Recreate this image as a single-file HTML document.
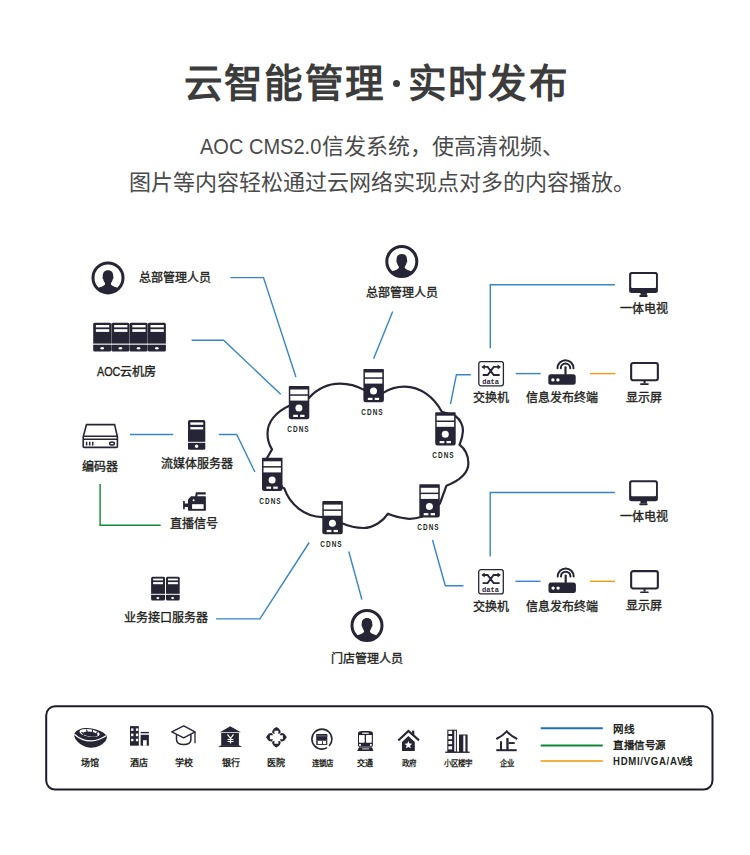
<!DOCTYPE html>
<html lang="zh-CN"><head><meta charset="utf-8">
<style>
html,body{margin:0;padding:0;background:#fff;}
body{width:750px;height:855px;position:relative;overflow:hidden;font-family:"Liberation Sans",sans-serif;}
.t{position:absolute;white-space:nowrap;}
#title{left:1.5px;width:750px;text-align:center;top:54px;font-size:38.5px;letter-spacing:1.2px;font-weight:bold;color:#3c3c3c;line-height:60px;}
#title .dot{display:inline-block;width:7px;height:7px;border-radius:50%;background:#3c3c3c;vertical-align:middle;margin:0 8.5px 0 7.5px;position:relative;top:-3.5px;}
#sub1{left:7px;width:750px;text-align:center;top:132px;font-size:22px;color:#4a4a4a;line-height:30px;}
#sub2{left:6.5px;width:750px;text-align:center;top:168px;font-size:22px;color:#4a4a4a;line-height:30px;}
.lb{position:absolute;width:160px;margin-left:-80px;text-align:center;font-size:12px;line-height:14px;font-weight:normal;-webkit-text-stroke:0.35px #231f20;color:#231f20;white-space:nowrap;margin-top:1px;}
.cd{position:absolute;width:40px;margin-left:-20px;text-align:center;font-size:8.5px;line-height:10px;font-weight:bold;color:#231f20;letter-spacing:1.3px;text-indent:1.3px;transform:scaleX(0.76);}
.lg{position:absolute;width:60px;margin-left:-30px;text-align:center;font-size:9px;line-height:10px;font-weight:bold;color:#231f20;white-space:nowrap;margin-top:1px;}
.lk{position:absolute;left:613px;letter-spacing:0.5px;font-size:10.5px;line-height:12px;font-weight:bold;color:#231f20;white-space:nowrap;margin-top:1px;}
svg{position:absolute;left:0;top:0;}
</style></head><body>
<div class="t" id="title">云智能管理<span class="dot"></span>实时发布</div>
<div class="t" id="sub1"><span style="display:inline-block;transform:scaleX(0.91);transform-origin:0 0;margin-right:-12px">AOC CMS2.0</span>信发系统，使高清视频、</div>
<div class="t" id="sub2">图片等内容轻松通过云网络实现点对多的内容播放。</div>
<svg width="750" height="855" viewBox="0 0 750 855">


<!-- network lines -->
<g fill="none" stroke="#3585c8" stroke-width="1.4">
<polyline points="230.4,277.6 263.5,277.6 295.9,377"/>
<polyline points="191.6,340.3 223.7,340.3 280.7,394.3"/>
<polyline points="392.7,311.4 373.6,358.8"/>
<polyline points="450.5,404 456.4,374.7 470.9,374.7"/>
<polyline points="490.3,348.2 490.3,284.7 614.9,284.7"/>
<polyline points="515.7,373.6 540.7,373.6"/>
<polyline points="432.5,540 445.3,585.7 463.5,585.7"/>
<polyline points="490.2,556.5 490.2,492.5 614.9,492.5"/>
<polyline points="515.5,581.3 540.5,581.3"/>
<polyline points="130,434.5 173.2,434.5"/>
<polyline points="218.8,434.5 236.7,434.5 254.9,472"/>
<polyline points="216.1,618.9 259.9,618.9 309.2,542.5"/>
<polyline points="348.8,551.5 361.9,599.5"/>
</g>
<g fill="none" stroke="#f39c12" stroke-width="1.4">
<polyline points="590,373.6 615.5,373.6"/>
<polyline points="589.9,581.3 615,581.3"/>
</g>
<polyline points="100.1,484.1 100.1,525.2 160.7,525.2" fill="none" stroke="#0f8a36" stroke-width="1.4"/>

<!-- cloud -->
<path fill="none" stroke="#262536" stroke-width="2.2" stroke-linejoin="round" d="M308.9,397.9 C318,388 329,383.6 340.1,383.6 C350,383.6 357,386 364,389.9 L383.6,392.6 C390,388.5 397,386.6 404.6,386.6 C420,386.6 434,397 441.8,411.8 L455.4,416 C461,420 463.5,427 462.8,432 C462.5,438 460.5,442 459.5,444.7 C465,449 468.4,456 468.4,463.3 C468.4,475 456,482 446.4,485.8 L439.9,503.5 L422,516.7 C416,518.5 411,519 407.3,518.7 C399,517.5 392,515.5 388,513.7 C384,520 374,528 363.3,528 C355,528 348,526 342,523.3 L322.4,517.1 C305,517 290,505 284.2,488.2 L282.4,487.4 L267.2,457.8 L272,449.4 C268,443 267.5,437 267.5,433.4 C267.5,422 276,412 288.8,406.1 Z"/>

<!-- servers on cloud -->
<g transform="translate(288.8 386)">
<path fill="#262536" d="M0,0.8 Q0,0 0.8,0 H19.7 Q20.5,0 20.5,0.8 V30.7 Q20.5,33.2 18,33.2 H2.5 Q0,33.2 0,30.7 Z"/>
<rect x="1.5" y="3.5" width="17.4" height="4.8" fill="#fff"/>
<rect x="1.5" y="9.8" width="17.4" height="4.8" fill="#fff"/>
<circle cx="10.1" cy="22.1" r="3.5" fill="#fff"/>
<rect x="4.4" y="28.8" width="4.7" height="2.2" fill="#fff"/>
<rect x="11.3" y="28.8" width="4.4" height="2.2" fill="#fff"/>
</g>
<g transform="translate(363.4 369)">
<path fill="#262536" d="M0,0.8 Q0,0 0.8,0 H19.7 Q20.5,0 20.5,0.8 V30.7 Q20.5,33.2 18,33.2 H2.5 Q0,33.2 0,30.7 Z"/>
<rect x="1.5" y="3.5" width="17.4" height="4.8" fill="#fff"/>
<rect x="1.5" y="9.8" width="17.4" height="4.8" fill="#fff"/>
<circle cx="10.1" cy="22.1" r="3.5" fill="#fff"/>
<rect x="4.4" y="28.8" width="4.7" height="2.2" fill="#fff"/>
<rect x="11.3" y="28.8" width="4.4" height="2.2" fill="#fff"/>
</g>
<g transform="translate(435.2 412.2)">
<path fill="#262536" d="M0,0.8 Q0,0 0.8,0 H19.7 Q20.5,0 20.5,0.8 V30.7 Q20.5,33.2 18,33.2 H2.5 Q0,33.2 0,30.7 Z"/>
<rect x="1.5" y="3.5" width="17.4" height="4.8" fill="#fff"/>
<rect x="1.5" y="9.8" width="17.4" height="4.8" fill="#fff"/>
<circle cx="10.1" cy="22.1" r="3.5" fill="#fff"/>
<rect x="4.4" y="28.8" width="4.7" height="2.2" fill="#fff"/>
<rect x="11.3" y="28.8" width="4.4" height="2.2" fill="#fff"/>
</g>
<g transform="translate(419.3 484.3)">
<path fill="#262536" d="M0,0.8 Q0,0 0.8,0 H19.7 Q20.5,0 20.5,0.8 V30.7 Q20.5,33.2 18,33.2 H2.5 Q0,33.2 0,30.7 Z"/>
<rect x="1.5" y="3.5" width="17.4" height="4.8" fill="#fff"/>
<rect x="1.5" y="9.8" width="17.4" height="4.8" fill="#fff"/>
<circle cx="10.1" cy="22.1" r="3.5" fill="#fff"/>
<rect x="4.4" y="28.8" width="4.7" height="2.2" fill="#fff"/>
<rect x="11.3" y="28.8" width="4.4" height="2.2" fill="#fff"/>
</g>
<g transform="translate(322.3 501.1)">
<path fill="#262536" d="M0,0.8 Q0,0 0.8,0 H19.7 Q20.5,0 20.5,0.8 V30.7 Q20.5,33.2 18,33.2 H2.5 Q0,33.2 0,30.7 Z"/>
<rect x="1.5" y="3.5" width="17.4" height="4.8" fill="#fff"/>
<rect x="1.5" y="9.8" width="17.4" height="4.8" fill="#fff"/>
<circle cx="10.1" cy="22.1" r="3.5" fill="#fff"/>
<rect x="4.4" y="28.8" width="4.7" height="2.2" fill="#fff"/>
<rect x="11.3" y="28.8" width="4.4" height="2.2" fill="#fff"/>
</g>
<g transform="translate(262 457.8)">
<path fill="#262536" d="M0,0.8 Q0,0 0.8,0 H19.7 Q20.5,0 20.5,0.8 V30.7 Q20.5,33.2 18,33.2 H2.5 Q0,33.2 0,30.7 Z"/>
<rect x="1.5" y="3.5" width="17.4" height="4.8" fill="#fff"/>
<rect x="1.5" y="9.8" width="17.4" height="4.8" fill="#fff"/>
<circle cx="10.1" cy="22.1" r="3.5" fill="#fff"/>
<rect x="4.4" y="28.8" width="4.7" height="2.2" fill="#fff"/>
<rect x="11.3" y="28.8" width="4.4" height="2.2" fill="#fff"/>
</g>

<!-- people -->
<g transform="translate(108 277.9)">
<circle cx="0" cy="0" r="15" fill="none" stroke="#262536" stroke-width="3"/>
<path fill="#262536" d="M-3,5 C-3.5,4.5 -4.5,3 -4.8,1 L-5.5,0.5 L-5.3,-1.5 C-5.3,-5.5 -3.5,-7.6 0,-7.6 C3.5,-7.6 5.3,-5.5 5.3,-1.5 L5.5,0.5 L4.8,1 C4.5,3 3.5,4.5 3,5 L3,6.5 C4,8 7,8.8 10.8,10.4 A15,15 0 0 1 -10.8,10.4 C-7,8.8 -4,8 -3,6.5 Z"/>
</g>
<g transform="translate(401.8 261.5)">
<circle cx="0" cy="0" r="15" fill="none" stroke="#262536" stroke-width="3"/>
<path fill="#262536" d="M-3,5 C-3.5,4.5 -4.5,3 -4.8,1 L-5.5,0.5 L-5.3,-1.5 C-5.3,-5.5 -3.5,-7.6 0,-7.6 C3.5,-7.6 5.3,-5.5 5.3,-1.5 L5.5,0.5 L4.8,1 C4.5,3 3.5,4.5 3,5 L3,6.5 C4,8 7,8.8 10.8,10.4 A15,15 0 0 1 -10.8,10.4 C-7,8.8 -4,8 -3,6.5 Z"/>
</g>
<g transform="translate(367 625.5)">
<circle cx="0" cy="0" r="15" fill="none" stroke="#262536" stroke-width="3"/>
<path fill="#262536" d="M-3,5 C-3.5,4.5 -4.5,3 -4.8,1 L-5.5,0.5 L-5.3,-1.5 C-5.3,-5.5 -3.5,-7.6 0,-7.6 C3.5,-7.6 5.3,-5.5 5.3,-1.5 L5.5,0.5 L4.8,1 C4.5,3 3.5,4.5 3,5 L3,6.5 C4,8 7,8.8 10.8,10.4 A15,15 0 0 1 -10.8,10.4 C-7,8.8 -4,8 -3,6.5 Z"/>
</g>

<!-- server bank -->
<g fill="#262536">
<rect x="93.2" y="322.8" width="18.0" height="28.8" rx="1.5"/>
<rect x="111.4" y="322.8" width="18.0" height="28.8" rx="1.5"/>
<rect x="129.6" y="322.8" width="18.0" height="28.8" rx="1.5"/>
<rect x="147.8" y="322.8" width="18.1" height="28.8" rx="1.5"/>
</g>
<g fill="#fff">
<rect x="95.9" y="325" width="13.3" height="2.4"/><rect x="95.9" y="329.2" width="13.3" height="2.7"/>
<rect x="114.1" y="325" width="13.3" height="2.4"/><rect x="114.1" y="329.2" width="13.3" height="2.7"/>
<rect x="132.3" y="325" width="13.3" height="2.4"/><rect x="132.3" y="329.2" width="13.3" height="2.7"/>
<rect x="150.5" y="325" width="13.3" height="2.4"/><rect x="150.5" y="329.2" width="13.3" height="2.7"/>
<rect x="93" y="343.6" width="73" height="1.1"/>
<ellipse cx="102.2" cy="348.3" rx="1.8" ry="1.2"/><ellipse cx="120.4" cy="348.3" rx="1.8" ry="1.2"/>
<ellipse cx="138.6" cy="348.3" rx="1.8" ry="1.2"/><ellipse cx="156.8" cy="348.3" rx="1.8" ry="1.2"/>
</g>

<!-- encoder -->
<g fill="none" stroke="#262536" stroke-width="1.6">
<path d="M86.5,424.6 H114.6 L117.4,436.8 V446.4 Q117.4,447.4 116.4,447.4 H84.2 Q83.2,447.4 83.2,446.4 V436.8 Z"/>
<path d="M83.5,436.3 H117.2 M83.2,439.3 H117.4"/>
<path d="M86.6,441.8 V445.4 M89.7,441.8 V445.4 M92.7,441.8 V445.4" stroke-width="1.5"/>
<ellipse cx="112" cy="443.5" rx="2.4" ry="1.6" stroke-width="1.5"/>
</g>

<!-- stream tower -->
<rect x="188" y="420.1" width="17.3" height="29.7" rx="1.6" fill="#262536"/>
<g fill="#fff">
<rect x="190.3" y="422.4" width="12.9" height="2.4"/><rect x="190.3" y="427.1" width="12.9" height="2.3"/>
<rect x="187.5" y="441.8" width="18.5" height="1"/>
<circle cx="196.6" cy="446.3" r="1.7"/>
</g>

<!-- camera -->
<g fill="#262536">
<path d="M188,499.5 L191,496.3 H205 Q205.9,496.3 205.9,497.2 V509.9 Q205.9,510.8 205,510.8 H189 Q188,510.8 188,509.9 Z"/>
<path d="M183.1,501 H184.8 V503.4 H188.5 V507 H184.8 V509.3 H183.1 Z"/>
<path d="M195,496.8 L195.9,492.3 H205.7 V494.4 H197.6 L197.1,496.8 Z"/>
</g>
<g fill="#fff">
<rect x="192.1" y="504.2" width="11.5" height="4.7"/>
<circle cx="193.6" cy="500.2" r="1"/>
</g>

<!-- double server -->
<g fill="#262536">
<rect x="151.1" y="576.8" width="13.9" height="23.8" rx="1.5"/>
<rect x="166" y="576.8" width="13.7" height="23.8" rx="1.5"/>
</g>
<g fill="#fff">
<rect x="153.1" y="578.6" width="9.9" height="1.8"/><rect x="153.1" y="582.1" width="9.9" height="2.1"/>
<rect x="168" y="578.6" width="9.9" height="1.8"/><rect x="168" y="582.1" width="9.9" height="2.1"/>
<rect x="150" y="593.8" width="31" height="1"/>
<ellipse cx="157.9" cy="598.1" rx="1.5" ry="1.1"/><ellipse cx="172.6" cy="598.1" rx="1.5" ry="1.1"/>
</g>

<!-- right groups -->
<g transform="translate(478.2 361)">
<rect x="0.6" y="0.6" width="24.6" height="24.2" rx="2.2" fill="#fff" stroke="#262536" stroke-width="1.3"/>
<path d="M4.5,5.9 H9.5 L15.5,14 H21.5 M4.5,14 H9.5 L15.5,5.9 H20.5" fill="none" stroke="#262536" stroke-width="1.9"/>
<path d="M3.2,5.9 L6.6,3.4 V8.4 Z M22.8,5.9 L19.4,3.4 V8.4 Z" fill="#262536"/>
<text x="12.4" y="22.6" text-anchor="middle" font-family="Liberation Mono" font-weight="bold" font-size="7" fill="#262536" letter-spacing="0">data</text>
</g>
<g transform="translate(548.3 358.4)">
<rect x="0" y="15.8" width="27.4" height="10.5" rx="2.5" fill="#262536"/>
<rect x="16.1" y="7.8" width="2.2" height="9" rx="1.1" fill="#262536"/>
<circle cx="4.6" cy="21.5" r="1.7" fill="#fff"/>
<circle cx="9.6" cy="21.5" r="1.7" fill="#fff"/>
<path d="M9.2,9.8 A8,8 0 0 1 25.2,9.8 M12.5,9.8 A4.7,4.7 0 0 1 21.9,9.8" fill="none" stroke="#262536" stroke-width="2" stroke-linecap="round"/>
</g>
<g transform="translate(629.1 271.9)">
<rect x="0" y="0" width="28.8" height="21" rx="2.5" fill="#262536"/>
<rect x="2.1" y="2.1" width="24.8" height="13.9" rx="1" fill="#fff"/>
<rect x="11.4" y="20" width="6.4" height="3" fill="#262536"/>
<rect x="10.1" y="23" width="8.5" height="2" rx="1" fill="#262536"/>
</g>
<g transform="translate(630.1 361.9)">
<rect x="1.05" y="1.05" width="26.7" height="17.3" rx="2" fill="none" stroke="#262536" stroke-width="2.1"/>
<rect x="13.4" y="19" width="2.1" height="2.4" fill="#262536"/>
<rect x="9.9" y="21.4" width="8.8" height="1.6" rx="0.8" fill="#262536"/>
</g>
<g transform="translate(478.1 569.1)">
<rect x="0.6" y="0.6" width="24.6" height="24.2" rx="2.2" fill="#fff" stroke="#262536" stroke-width="1.3"/>
<path d="M4.5,5.9 H9.5 L15.5,14 H21.5 M4.5,14 H9.5 L15.5,5.9 H20.5" fill="none" stroke="#262536" stroke-width="1.9"/>
<path d="M3.2,5.9 L6.6,3.4 V8.4 Z M22.8,5.9 L19.4,3.4 V8.4 Z" fill="#262536"/>
<text x="12.4" y="22.6" text-anchor="middle" font-family="Liberation Mono" font-weight="bold" font-size="7" fill="#262536" letter-spacing="0">data</text>
</g>
<g transform="translate(548.5 566.6)">
<rect x="0" y="15.8" width="27.4" height="10.5" rx="2.5" fill="#262536"/>
<rect x="16.1" y="7.8" width="2.2" height="9" rx="1.1" fill="#262536"/>
<circle cx="4.6" cy="21.5" r="1.7" fill="#fff"/>
<circle cx="9.6" cy="21.5" r="1.7" fill="#fff"/>
<path d="M9.2,9.8 A8,8 0 0 1 25.2,9.8 M12.5,9.8 A4.7,4.7 0 0 1 21.9,9.8" fill="none" stroke="#262536" stroke-width="2" stroke-linecap="round"/>
</g>
<g transform="translate(629.1 480.2)">
<rect x="0" y="0" width="28.8" height="21" rx="2.5" fill="#262536"/>
<rect x="2.1" y="2.1" width="24.8" height="13.9" rx="1" fill="#fff"/>
<rect x="11.4" y="20" width="6.4" height="3" fill="#262536"/>
<rect x="10.1" y="23" width="8.5" height="2" rx="1" fill="#262536"/>
</g>
<g transform="translate(630.1 570.1)">
<rect x="1.05" y="1.05" width="26.7" height="17.3" rx="2" fill="none" stroke="#262536" stroke-width="2.1"/>
<rect x="13.4" y="19" width="2.1" height="2.4" fill="#262536"/>
<rect x="9.9" y="21.4" width="8.8" height="1.6" rx="0.8" fill="#262536"/>
</g>

<!-- legend box -->
<rect x="46.2" y="706.2" width="666.3" height="83.4" rx="9" fill="none" stroke="#1c1b2c" stroke-width="2"/>
<line x1="540.7" y1="728.2" x2="602.8" y2="728.2" stroke="#1f6fb9" stroke-width="2"/>
<line x1="540.7" y1="745.4" x2="602.8" y2="745.4" stroke="#0c8a3a" stroke-width="2"/>
<line x1="540.7" y1="760.9" x2="602.8" y2="760.9" stroke="#f5b043" stroke-width="2"/>

<!-- legend icons -->
<g fill="#262536">
<!-- stadium -->
<path d="M74.3,734 C76,729.5 82,727.8 87,727.9 C95,728.1 104,731.5 106.5,735.5 C107.5,738 106.5,742 100,745.5 C96,747.5 92,748 89,747.5 C82,746.5 75,741 74.3,736 Z"/>
<path d="M74.3,734.2 C78,737.5 85,741 91.3,740.9 C97,740.8 102,738.5 106,735.8" fill="none" stroke="#fff" stroke-width="1.2"/>
<ellipse cx="89.6" cy="733" rx="10.3" ry="3.8" transform="rotate(9 89.6 733)" fill="#fff"/>
<ellipse cx="90.4" cy="734.2" rx="7.4" ry="2.4" transform="rotate(9 90.4 734.2)"/>
<path d="M81.5,732 L84.3,735 M86.5,729.6 L87.5,733 M92.5,730 L92.3,733.4 M97.5,731.5 L96,734.8" stroke="#262536" stroke-width="1.1" fill="none"/>
<!-- hotel -->
<rect x="130" y="726.1" width="8.8" height="19.6"/>
<rect x="140.6" y="731.9" width="8.3" height="1.4"/>
<rect x="140.6" y="734.8" width="8.3" height="10.9"/>
<g fill="#fff"><rect x="131.1" y="728.4" width="2.3" height="2.5"/><rect x="135.9" y="728.4" width="2.3" height="2.5"/>
<rect x="131.1" y="733.6" width="2.3" height="2.6"/><rect x="135.9" y="733.6" width="2.3" height="2.6"/>
<rect x="131.1" y="738.8" width="2.3" height="2.4"/><rect x="135.9" y="738.8" width="2.3" height="2.4"/>
<rect x="143" y="740.2" width="3.7" height="5.6"/></g>
<!-- school -->
<path d="M171.8,731.9 L183.7,725.9 L195,731.9 L183.7,737.8 Z" fill="none" stroke="#262536" stroke-width="1.5" stroke-linejoin="round"/>
<path d="M176.5,734.5 V739.5 Q176.5,744.5 183.7,744.5 Q190.9,744.5 190.9,739.5 V734.5" fill="none" stroke="#262536" stroke-width="1.5"/>
<path d="M195,731.9 V743.3" fill="none" stroke="#262536" stroke-width="1.3"/>
<!-- bank -->
<path d="M219.9,732.2 L230.2,726.2 L240.8,732.2 Z"/>
<rect x="221.2" y="733" width="17.7" height="12.8"/>
<path d="M220.5,745.4 H239.6 L242.1,747 H218.2 Z"/>
<path d="M227.5,734.3 L230.5,738.5 L233.5,734.3 M230.5,738.5 V743.6 M227.5,739.5 H233.5 M227.5,741.5 H233.5" fill="none" stroke="#fff" stroke-width="1.2"/>
<!-- hospital -->
<path d="M276.4,727 Q281,729.5 280.6,732.5 Q280,734 276.4,734 Q272.8,734 272.2,732.5 Q271.8,729.5 276.4,727 Z"/>
<path d="M276.4,747.6 Q281,745.1 280.6,742.1 Q280,740.6 276.4,740.6 Q272.8,740.6 272.2,742.1 Q271.8,745.1 276.4,747.6 Z"/>
<path d="M266,737.3 Q268.5,732.7 271.5,733.1 Q273,733.7 273,737.3 Q273,740.9 271.5,741.5 Q268.5,741.9 266,737.3 Z"/>
<path d="M286.8,737.3 Q284.3,732.7 281.3,733.1 Q279.8,733.7 279.8,737.3 Q279.8,740.9 281.3,741.5 Q284.3,741.9 286.8,737.3 Z"/>
<path d="M274.4,730.8 H278.4 V735.3 H282.9 V739.3 H278.4 V743.8 H274.4 V739.3 H269.9 V735.3 H274.4 Z" fill="#fff"/>
<!-- chain store -->
<circle cx="321.9" cy="739.1" r="10" fill="none" stroke="#262536" stroke-width="1.6" stroke-dasharray="7.6 2.6 100"/>
<path d="M316.2,734 H327.3 V740.6 H316.2 Z"/>
<rect x="316.2" y="740.6" width="11.1" height="4.3"/>
<g fill="#fff"><rect x="317.7" y="741" width="4.3" height="3"/><rect x="322.9" y="741" width="3.2" height="3"/></g>
<rect x="316.2" y="735" width="11.1" height="1.6" fill="#55556a"/>
<!-- train -->
<path d="M358,733 Q358,731.8 359.5,731.6 L361.7,731 H369 L371.4,731.6 Q372.9,731.8 372.9,733 V745.5 Q372.9,746.7 371.7,746.7 H359.2 Q358,746.7 358,745.5 Z"/>
<g fill="#fff"><rect x="362.2" y="732.6" width="6.6" height="1.2"/>
<rect x="359" y="734.9" width="5.7" height="7.8" rx="0.6"/><rect x="366" y="734.9" width="5.8" height="7.8" rx="0.6"/>
<rect x="359.1" y="744" width="1.8" height="1.8"/><rect x="370" y="744" width="1.7" height="1.8"/></g>
<path d="M359,747.2 H372 L373.5,750.9 H357.2 Z"/>
<rect x="362.2" y="748.5" width="6.8" height="0.8" fill="#fff"/>
<!-- government -->
<path d="M398.3,740.4 L408.4,730.9 L419.1,740.4" fill="none" stroke="#262536" stroke-width="2.1"/>
<rect x="412.1" y="730.6" width="2.2" height="4.6"/>
<path d="M402,742 L408.4,736.1 L414.8,742 V751.1 H402 Z"/>
<path d="M408.4,741 L409.5,743.6 L412.3,743.8 L410.2,745.6 L410.8,748.3 L408.4,746.9 L406,748.3 L406.6,745.6 L404.5,743.8 L407.3,743.6 Z" fill="#fff"/>
<!-- buildings -->
<rect x="447.3" y="729.7" width="9.6" height="22.4"/>
<rect x="459" y="734.5" width="8.6" height="17.6"/>
<rect x="445.2" y="751.6" width="24.5" height="1.3"/>
<g fill="#fff"><rect x="448.4" y="730.8" width="3.7" height="3.2"/><rect x="448.4" y="736" width="3.7" height="3.2"/>
<rect x="448.4" y="741" width="3.7" height="3.2"/><rect x="448.4" y="746.2" width="3.7" height="3.2"/>
<rect x="454.3" y="730.8" width="1.6" height="20.6"/><rect x="463.3" y="735.5" width="2.1" height="16"/></g>
<!-- enterprise -->
<path d="M496.3,739 Q502.5,736 506.8,731.3 Q511,736 517.2,739" fill="none" stroke="#262536" stroke-width="2"/>
<rect x="500" y="741.2" width="2" height="9"/>
<rect x="506.3" y="738" width="2.3" height="12.2"/>
<rect x="508.6" y="742.1" width="6.1" height="1.9"/>
<rect x="496.3" y="749.2" width="20.4" height="2"/>
</g>
</svg>

<div class="lb" style="left:175.3px;top:270px">总部管理人员</div>
<div class="lb" style="left:126.5px;top:364px"><span style="display:inline-block;transform:scaleX(0.9);transform-origin:0 0;margin-right:-2.6px">AOC</span>云机房</div>
<div class="lb" style="left:402px;top:285px">总部管理人员</div>
<div class="lb" style="left:100px;top:459px">编码器</div>
<div class="lb" style="left:197.3px;top:456px">流媒体服务器</div>
<div class="lb" style="left:194.2px;top:516px">直播信号</div>
<div class="lb" style="left:165.5px;top:610px">业务接口服务器</div>
<div class="lb" style="left:366.9px;top:651px">门店管理人员</div>
<div class="lb" style="left:490.6px;top:390px">交换机</div>
<div class="lb" style="left:562.2px;top:390px">信息发布终端</div>
<div class="lb" style="left:643.8px;top:301px">一体电视</div>
<div class="lb" style="left:644.3px;top:390px">显示屏</div>
<div class="lb" style="left:490.6px;top:599px">交换机</div>
<div class="lb" style="left:562.2px;top:599px">信息发布终端</div>
<div class="lb" style="left:643.8px;top:509px">一体电视</div>
<div class="lb" style="left:644.3px;top:598px">显示屏</div>

<div class="cd" style="left:298px;top:424px">CDNS</div>
<div class="cd" style="left:372px;top:407px">CDNS</div>
<div class="cd" style="left:443px;top:450px">CDNS</div>
<div class="cd" style="left:428px;top:522px">CDNS</div>
<div class="cd" style="left:330.6px;top:539px">CDNS</div>
<div class="cd" style="left:270.2px;top:496px">CDNS</div>

<div class="lg" style="left:90.2px;top:757px">场馆</div>
<div class="lg" style="left:138.9px;top:757px">酒店</div>
<div class="lg" style="left:183.5px;top:757px">学校</div>
<div class="lg" style="left:230.7px;top:757px">银行</div>
<div class="lg" style="left:276.3px;top:757px">医院</div>
<div class="lg" style="left:322px;top:757.5px;font-size:7.5px">连锁店</div>
<div class="lg" style="left:365px;top:757.5px;font-size:8px">交通</div>
<div class="lg" style="left:409.4px;top:757.5px;font-size:7.5px">政府</div>
<div class="lg" style="left:457.6px;top:757.5px;font-size:7.5px">小区楼宇</div>
<div class="lg" style="left:506.8px;top:757.5px;font-size:7.5px">企业</div>

<div class="lk" style="top:722px">网线</div>
<div class="lk" style="top:738px">直播信号源</div>
<div class="lk" style="top:754px"><span style="display:inline-block;letter-spacing:0.8px;transform:scaleX(0.91);transform-origin:0 0;margin-right:-9.5px">HDMI/VGA/AV</span>线</div>
</body></html>
